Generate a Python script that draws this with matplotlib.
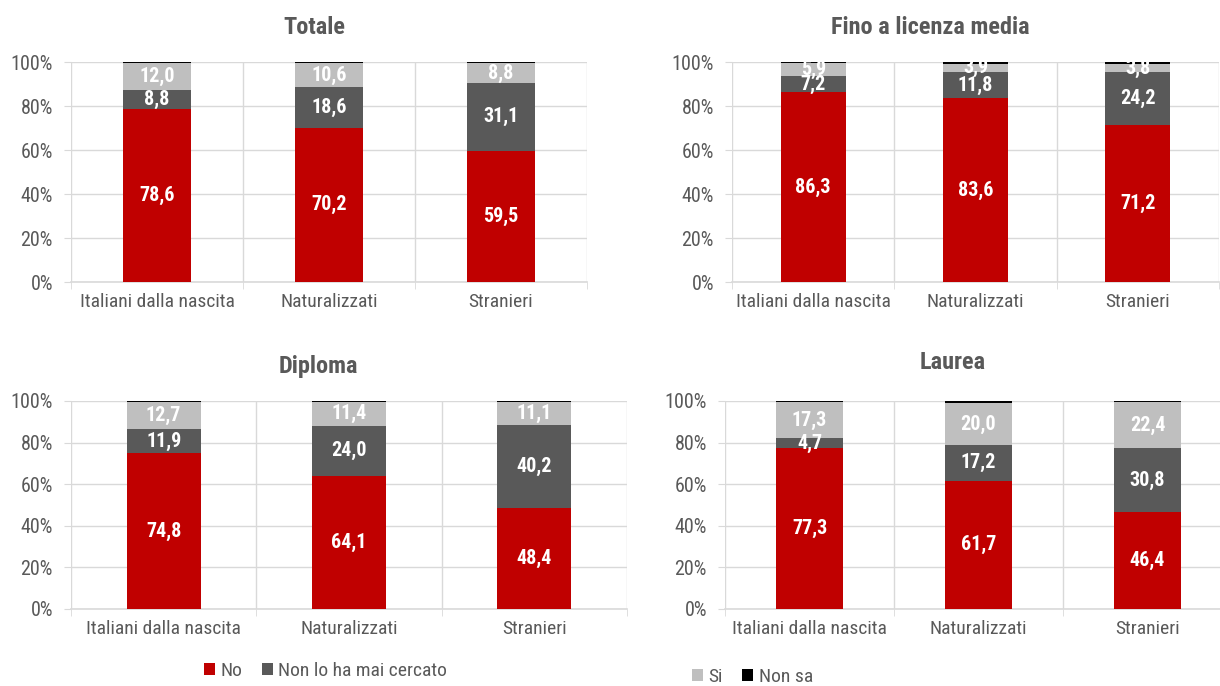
import numpy as np
import matplotlib.pyplot as plt
from matplotlib.patches import Patch

plt.rcParams['font.family'] = ['Roboto Condensed', 'DejaVu Sans']

## DATI
categorie = ['Italiani dalla nascita', 'Naturalizzati', 'Stranieri']
titoli = ['Totale', 'Fino a licenza media', 'Diploma', 'Laurea']

no_ = [[78.6, 70.2, 59.5], [86.3, 83.6, 71.2], [74.8, 64.1, 48.4], [77.3, 61.7, 46.4]]
mai_cercato = [[8.8, 18.6, 31.1], [7.2, 11.8, 24.2], [11.9, 24.0, 40.2], [4.7, 17.2, 30.8]]
si_ = [[12.0, 10.6, 8.8], [5.9, 3.9, 3.8], [12.7, 11.4, 11.1], [17.3, 20.0, 22.4]]
non_sa = [[0.6, 0.6, 0.6], [0.6, 0.7, 0.8], [0.6, 0.5, 0.3], [0.7, 1.1, 0.4]]

serie = [no_, mai_cercato, si_, non_sa]
nomi_serie = ['No', 'Non lo ha mai cercato', 'Si', 'Non sa']
colori = ['#C00000', '#595959', '#BFBFBF', '#000000']
con_etichetta = [True, True, True, False]

GRIGIO_TESTO = '#595959'
GRIGIO_GRIGLIA = '#d9d9d9'

W, H = 1220, 686
# riquadri in pixel: sinistra, destra, alto, basso, limite x destro
riquadri = [(71, 587, 62, 282, 2.3),
            (732, 1219, 62, 282, 2.5),
            (71, 627, 401, 609, 2.5),
            (725, 1232, 401, 609, 2.5)]
# posizione dei titoli (pixel)
pos_titoli = [(314, 27), (930, 27), (318, 367), (953, 362)]


def fmt(v):
    return f'{v:.1f}'.replace('.', ',')


fig = plt.figure(figsize=(W / 100, H / 100), dpi=100)

for i, (l, r, t, b, xmax) in enumerate(riquadri):
    ax = fig.add_axes([l / W, 1 - b / H, (r - l) / W, (b - t) / H])
    x = np.arange(len(categorie))
    base = np.zeros(len(categorie))
    for s, col, lab in zip(serie, colori, con_etichetta):
        vals = np.array(s[i])
        ax.bar(x, vals, 0.4, bottom=base, color=col, zorder=3)
        if lab:
            for xi, v, b0 in zip(x, vals, base):
                ax.text(xi, b0 + v / 2, fmt(v), ha='center', va='center',
                        color='white', fontweight='bold', fontsize=14.5, zorder=4)
        base += vals

    ax.set_xlim(-0.5, xmax)
    ax.set_ylim(0, 100)
    ax.set_yticks(range(0, 101, 20))
    ax.set_yticklabels([f'{v}%' for v in range(0, 101, 20)])
    ax.yaxis.grid(True, color=GRIGIO_GRIGLIA, lw=1)
    ax.set_axisbelow(True)
    for xv in [-0.5, 0.5, 1.5, 2.5]:
        ax.axvline(xv, color=GRIGIO_GRIGLIA, lw=1, zorder=1)
    for sp in ['top', 'right', 'left']:
        ax.spines[sp].set_visible(False)
    ax.spines['bottom'].set_color(GRIGIO_GRIGLIA)
    ax.spines['bottom'].set_linewidth(1.2)

    ax.set_xticks(x)
    ax.set_xticklabels(categorie)
    ax.set_xticks([-0.5, 0.5, 1.5, 2.5], minor=True)
    ax.tick_params(axis='x', which='major', length=0, pad=8, labelsize=14, labelcolor=GRIGIO_TESTO)
    ax.tick_params(axis='x', which='minor', length=5, color=GRIGIO_GRIGLIA, direction='out')
    ax.tick_params(axis='y', length=5, color=GRIGIO_GRIGLIA, pad=8, labelsize=14.5, labelcolor=GRIGIO_TESTO)

    tx, ty = pos_titoli[i]
    fig.text(tx / W, 1 - ty / H, titoli[i], ha='center', va='center',
             fontsize=17.5, fontweight='bold', color=GRIGIO_TESTO)

## LEGENDA (spezzata in due come nell'originale)
maniglie = [Patch(facecolor=c, edgecolor='none') for c in colori]
leg_opts = dict(frameon=False, ncol=2, fontsize=14, handlelength=0.55, handleheight=0.55,
                handletextpad=0.3, columnspacing=1.0, borderpad=0, borderaxespad=0,
                labelcolor=GRIGIO_TESTO, loc='center left')
fig.legend(maniglie[:2], nomi_serie[:2], bbox_to_anchor=(204 / W, 1 - 671 / H), **leg_opts)
fig.legend(maniglie[2:], nomi_serie[2:], bbox_to_anchor=(692 / W, 1 - 677 / H), **leg_opts)

fig.savefig('out.png', dpi=100)
